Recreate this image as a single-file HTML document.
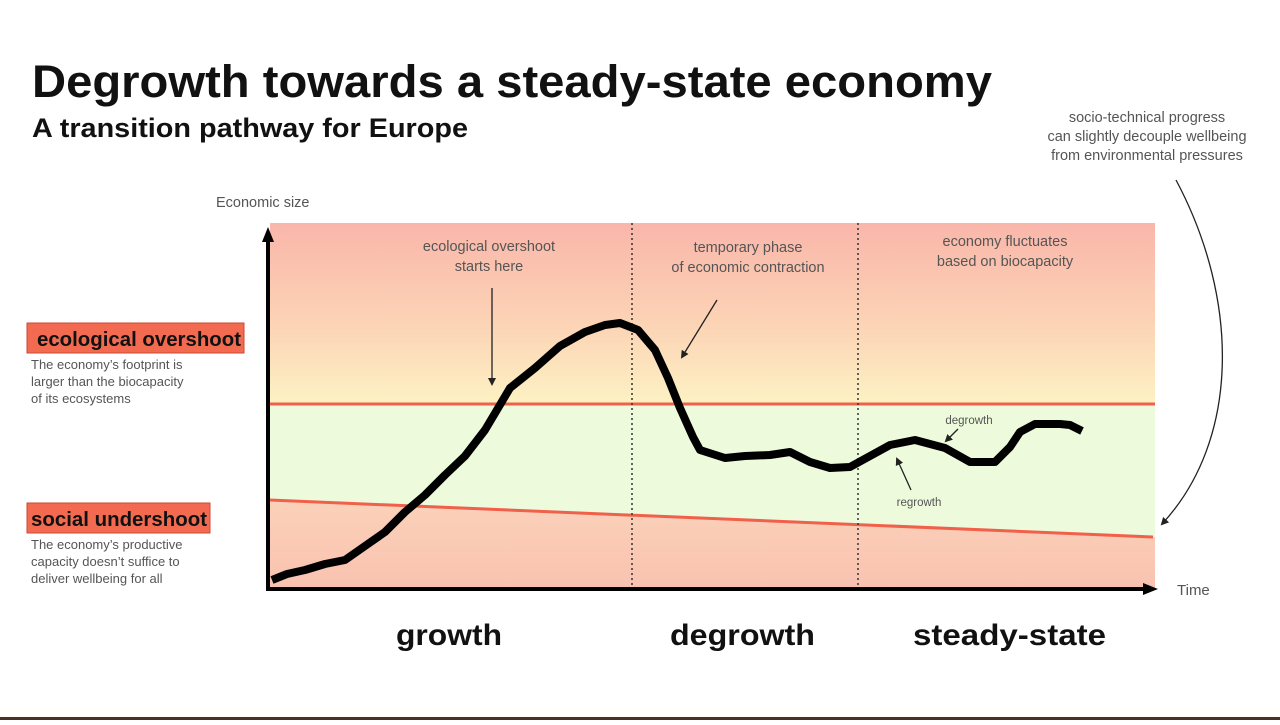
<!DOCTYPE html>
<html><head><meta charset="utf-8"><style>
body{margin:0;width:1280px;height:720px;background:#fff;overflow:hidden;font-family:"Liberation Sans",sans-serif}
</style></head><body>
<svg width="1280" height="720" viewBox="0 0 1280 720" xmlns="http://www.w3.org/2000/svg" font-family="Liberation Sans, sans-serif">
<defs>
<linearGradient id="top" x1="0" y1="0" x2="0" y2="1">
<stop offset="0" stop-color="#f9b6aa"/><stop offset="0.55" stop-color="#fcd3b5"/><stop offset="1" stop-color="#fdf2c4"/>
</linearGradient>
<linearGradient id="bot" x1="0" y1="0" x2="0" y2="1">
<stop offset="0" stop-color="#fde2c4"/><stop offset="1" stop-color="#f9c2b0"/>
</linearGradient>
<marker id="ah" markerWidth="8" markerHeight="8" refX="6" refY="4" orient="auto" markerUnits="userSpaceOnUse"><path d="M0,0 L8,4 L0,8 z" fill="#222"/></marker>
</defs>
<text x="32" y="97" font-size="45" font-weight="bold" fill="#111" textLength="960" lengthAdjust="spacingAndGlyphs">Degrowth towards a steady-state economy</text>
<text x="32" y="137" font-size="27" font-weight="bold" fill="#111" textLength="436" lengthAdjust="spacingAndGlyphs">A transition pathway for Europe</text>
<g font-size="14.5" fill="#555" text-anchor="middle">
<text x="1147" y="122">socio-technical progress</text>
<text x="1147" y="141">can slightly decouple wellbeing</text>
<text x="1147" y="160">from environmental pressures</text>
</g>
<text x="216" y="207" font-size="14.5" fill="#555">Economic size</text>
<rect x="270" y="223" width="885" height="182" fill="url(#top)"/>
<rect x="270" y="404" width="885" height="185" fill="url(#bot)"/>
<polygon points="270,404 1155,404 1155,537 270,500" fill="#eefadc"/>
<line x1="270" y1="404" x2="1155" y2="404" stroke="#f0604a" stroke-width="3"/>
<line x1="270" y1="500" x2="1153" y2="537" stroke="#f0604a" stroke-width="3"/>
<line x1="632" y1="223" x2="632" y2="588" stroke="#333" stroke-width="1.5" stroke-dasharray="2,3"/>
<line x1="858" y1="223" x2="858" y2="588" stroke="#333" stroke-width="1.5" stroke-dasharray="2,3"/>
<line x1="268" y1="590" x2="268" y2="240" stroke="#000" stroke-width="4"/>
<polygon points="268,227 262,242 274,242" fill="#000"/>
<line x1="266" y1="589" x2="1145" y2="589" stroke="#000" stroke-width="4"/>
<polygon points="1158,589 1143,583 1143,595" fill="#000"/>
<text x="1177" y="595" font-size="15" fill="#555">Time</text>
<polyline fill="none" stroke="#000" stroke-width="8" stroke-linejoin="round" stroke-linecap="butt" points="272,580 287,574 305,570 325,564 345,560 365,546 385,532 405,512 425,495 445,475 465,456 485,430 510,388 535,368 560,346 585,332 605,325 620,323 638,330 655,350 668,378 680,408 693,437 700,450 725,458 745,456 770,455 790,452 810,462 830,468 850,467 870,456 890,445 915,440 945,448 970,462 995,462 1010,447 1020,432 1035,424 1060,424 1070,425 1082,431"/>
<g font-size="14.5" fill="#555" text-anchor="middle">
<text x="489" y="251">ecological overshoot</text>
<text x="489" y="271">starts here</text>
<text x="748" y="252">temporary phase</text>
<text x="748" y="272">of economic contraction</text>
<text x="1005" y="246">economy fluctuates</text>
<text x="1005" y="266">based on biocapacity</text>
</g>
<text x="969" y="424" font-size="11.5" fill="#555" text-anchor="middle">degrowth</text>
<text x="919" y="506" font-size="11.5" fill="#555" text-anchor="middle">regrowth</text>
<g stroke="#222" stroke-width="1.3" fill="none">
<line x1="492" y1="288" x2="492" y2="384" marker-end="url(#ah)"/>
<line x1="717" y1="300" x2="682" y2="357" marker-end="url(#ah)"/>
<line x1="958" y1="429" x2="946" y2="441" marker-end="url(#ah)"/>
<line x1="911" y1="490" x2="897" y2="459" marker-end="url(#ah)"/>
<path d="M1176,180 C1240,300 1240,440 1162,524" marker-end="url(#ah)"/>
</g>
<rect x="27" y="323" width="217" height="30" fill="#f26a4f" stroke="#c94a35" stroke-width="1"/>
<text x="37" y="346" font-size="20" font-weight="bold" fill="#111" textLength="204" lengthAdjust="spacingAndGlyphs">ecological overshoot</text>
<g font-size="13" fill="#555">
<text x="31" y="369">The economy’s footprint is</text>
<text x="31" y="386">larger than the biocapacity</text>
<text x="31" y="403">of its ecosystems</text>
<text x="31" y="549">The economy’s productive</text>
<text x="31" y="566">capacity doesn’t suffice to</text>
<text x="31" y="583">deliver wellbeing for all</text>
</g>
<rect x="27" y="503" width="183" height="30" fill="#f26a4f" stroke="#c94a35" stroke-width="1"/>
<text x="31" y="526" font-size="20" font-weight="bold" fill="#111" textLength="176" lengthAdjust="spacingAndGlyphs">social undershoot</text>
<g font-size="30" font-weight="bold" fill="#111">
<text x="396" y="645" textLength="106" lengthAdjust="spacingAndGlyphs">growth</text>
<text x="670" y="645" textLength="145" lengthAdjust="spacingAndGlyphs">degrowth</text>
<text x="913" y="645" textLength="193" lengthAdjust="spacingAndGlyphs">steady-state</text>
</g>
<rect x="0" y="717" width="1280" height="3" fill="#4a3028"/>
</svg>
</body></html>
